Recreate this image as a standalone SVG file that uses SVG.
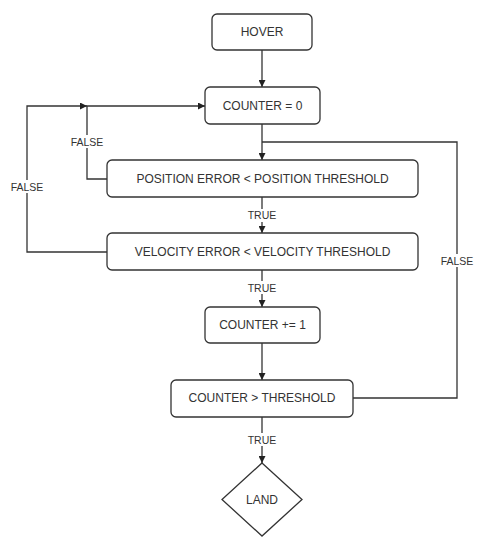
<svg xmlns="http://www.w3.org/2000/svg" width="487" height="550" viewBox="0 0 487 550">
<defs>
<marker id="arr" viewBox="0 0 10 10" refX="10" refY="5" markerWidth="7" markerHeight="7" markerUnits="userSpaceOnUse" orient="auto">
<path d="M0,0 L10,5 L0,10 Z" fill="#222"/>
</marker>
<style>
.box{fill:#fff;stroke:#333;stroke-width:1.3}
.t{font-family:"Liberation Sans",Arial,sans-serif;font-size:12px;fill:#333;text-anchor:middle;dominant-baseline:central}
.l{font-family:"Liberation Sans",Arial,sans-serif;font-size:10.5px;fill:#333;text-anchor:middle;dominant-baseline:central}
.c{fill:none;stroke:#333;stroke-width:1.3}
.lb{fill:#fff}
</style>
</defs>
<rect width="487" height="550" fill="#fff"/>
<g id="connectors">
<path class="c" d="M262,50 V87" marker-end="url(#arr)"/>
<path class="c" d="M262,124 V160" marker-end="url(#arr)"/>
<path class="c" d="M107,179 H87 V106 H205" marker-end="url(#arr)"/>
<path class="c" d="M107,252 H27 V106 H87" marker-end="url(#arr)"/>
<path class="c" d="M262,197 V233" marker-end="url(#arr)"/>
<path class="c" d="M262,270 V307" marker-end="url(#arr)"/>
<path class="c" d="M262,343 V380" marker-end="url(#arr)"/>
<path class="c" d="M353,398 H457 V142 H262"/>
<path class="c" d="M262,417 V463" marker-end="url(#arr)"/>
<rect class="lb" x="68" y="135" width="38" height="13"/>
<text class="l" x="87" y="142">FALSE</text>
<rect class="lb" x="8" y="180" width="38" height="13"/>
<text class="l" x="27" y="187">FALSE</text>
<rect class="lb" x="438" y="254" width="38" height="13"/>
<text class="l" x="457" y="261">FALSE</text>
<rect class="lb" x="246" y="209" width="32" height="13"/>
<text class="l" x="262" y="215">TRUE</text>
<rect class="lb" x="246" y="281" width="32" height="13"/>
<text class="l" x="262" y="288">TRUE</text>
<rect class="lb" x="246" y="433" width="32" height="13"/>
<text class="l" x="262" y="440">TRUE</text>
</g>
<g id="hover"><rect class="box" x="212" y="14" width="100" height="36" rx="5"/><text class="t" x="262" y="32">HOVER</text></g>
<g id="counter0"><rect class="box" x="205" y="87" width="115" height="37" rx="5"/><text class="t" x="262.5" y="106">COUNTER = 0</text></g>
<g id="position"><rect class="box" x="107" y="160" width="311" height="37" rx="5"/><text class="t" x="262.5" y="179">POSITION ERROR &lt; POSITION THRESHOLD</text></g>
<g id="velocity"><rect class="box" x="107" y="233" width="311" height="37" rx="5"/><text class="t" x="262.5" y="252">VELOCITY ERROR &lt; VELOCITY THRESHOLD</text></g>
<g id="increment"><rect class="box" x="205" y="307" width="115" height="36" rx="5"/><text class="t" x="262.5" y="325">COUNTER += 1</text></g>
<g id="check"><rect class="box" x="171" y="380" width="182" height="37" rx="5"/><text class="t" x="262" y="398">COUNTER &gt; THRESHOLD</text></g>
<g id="land"><path class="box" d="M262,463 L302,499.5 L262,536 L222,499.5 Z"/><text class="t" x="262" y="499.5">LAND</text></g>
</svg>
